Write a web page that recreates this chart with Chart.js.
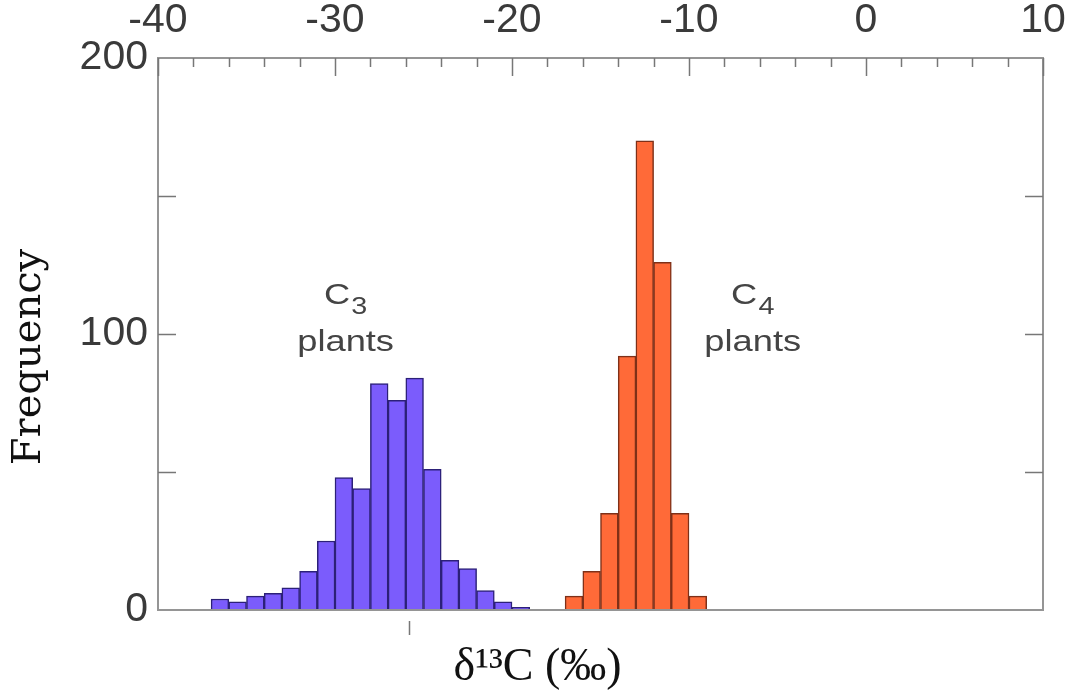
<!DOCTYPE html>
<html>
<head>
<meta charset="utf-8">
<script src="https://cdn.jsdelivr.net/npm/chart.js@4.4.1/dist/chart.umd.min.js"></script>
<style>
  html, body { margin: 0; padding: 0; background: #fff; }
  #wrap { width: 1071px; height: 690px; }
</style>
</head>
<body>
<div id="wrap"><canvas id="hist"></canvas></div>
<script>
// delta-13C histogram, 1 per-mil bins (bar x = bin centre)
const c3Centers = [-36.5, -35.5, -34.5, -33.5, -32.5, -31.5, -30.5, -29.5, -28.5,
                   -27.5, -26.5, -25.5, -24.5, -23.5, -22.5, -21.5, -20.5, -19.5];
const c3Counts  = [4, 3, 5, 6, 8, 14, 25, 48, 44, 82, 76, 84, 51, 18, 15, 7, 3, 1];

const c4Centers = [-16.5, -15.5, -14.5, -13.5, -12.5, -11.5, -10.5, -9.5];
const c4Counts  = [5, 14, 35, 92, 170, 126, 35, 5];

// group labels, anchored in data units
const groupNames = ['3', '4'];
const groupLabelX = [-29.4, -6.4];

// tick below the frame marking the C3 mean
const meanMarks = [-25.8];

const AXIS_FONT = '"Liberation Sans", Arial, sans-serif';
const TITLE_FONT = '"DejaVu Serif", serif';
const XTITLE_FONT = '"Liberation Serif", "Times New Roman", serif';

const pairs = (xs, ys) => xs.map((x, i) => ({ x, y: ys[i] }));

// keep the tick labels from pushing the plot box inwards
const noLabelPadding = s => {
  s.paddingLeft = 0;
  s.paddingRight = 0;
};

// frame, inward ticks, axis titles and the C3/C4 labels
const framePlugin = {
  id: 'frame',
  afterDatasetsDraw(chart) {
    const { ctx, chartArea: a, scales: { x, y } } = chart;
    ctx.save();

    ctx.strokeStyle = '#959595';
    ctx.lineWidth = 2;
    ctx.strokeRect(a.left, a.top, a.right - a.left, a.bottom - a.top);

    ctx.strokeStyle = '#777';
    ctx.lineWidth = 1.5;
    ctx.beginPath();
    for (let v = -40; v <= 10; v += 2) {
      const px = Math.round(x.getPixelForValue(v)) + 0.5;
      const len = v % 10 === 0 ? 18 : 9;
      ctx.moveTo(px, a.top);
      ctx.lineTo(px, a.top + len);
    }
    [50, 100, 150].forEach(v => {
      const py = Math.round(y.getPixelForValue(v)) + 0.5;
      ctx.moveTo(a.left, py);
      ctx.lineTo(a.left + 18, py);
      ctx.moveTo(a.right, py);
      ctx.lineTo(a.right - 18, py);
    });
    meanMarks.forEach(v => {
      const px = Math.round(x.getPixelForValue(v)) + 0.5;
      ctx.moveTo(px, a.bottom + 11);
      ctx.lineTo(px, a.bottom + 25);
    });
    ctx.stroke();

    // C3 / C4 group labels, set in a wide sans
    ctx.fillStyle = '#444';
    ctx.textBaseline = 'alphabetic';
    groupNames.forEach((sub, i) => {
      const cx = x.getPixelForValue(groupLabelX[i]);
      const base = y.getPixelForValue(111);
      ctx.save();
      ctx.translate(cx, 0);
      ctx.scale(1.25, 1);
      ctx.font = '29px ' + AXIS_FONT;
      const wC = ctx.measureText('C').width;
      ctx.font = '23px ' + AXIS_FONT;
      const wS = ctx.measureText(sub).width;
      const left = -(wC + wS + 1) / 2;
      ctx.font = '29px ' + AXIS_FONT;
      ctx.textAlign = 'left';
      ctx.fillText('C', left, base);
      ctx.font = '23px ' + AXIS_FONT;
      ctx.fillText(sub, left + wC + 1, base + 10);
      ctx.font = '29px ' + AXIS_FONT;
      ctx.textAlign = 'center';
      ctx.fillText('plants', 0, y.getPixelForValue(94));
      ctx.restore();
    });

    ctx.restore();
  },
  afterDraw(chart) {
    const { ctx, chartArea: a, width } = chart;
    ctx.save();
    ctx.fillStyle = '#111';
    ctx.textAlign = 'center';
    ctx.textBaseline = 'alphabetic';
    ctx.font = '46px ' + XTITLE_FONT;
    ctx.fillText('δ¹³C (‰)', width / 2 + 2, 680);

    ctx.translate(30, (a.top + a.bottom) / 2 + 23);
    ctx.rotate(-Math.PI / 2);
    ctx.font = '40px ' + TITLE_FONT;
    ctx.textBaseline = 'middle';
    ctx.fillText('Frequency', 0, 0);
    ctx.restore();
  }
};

new Chart(document.getElementById('hist'), {
  type: 'bar',
  data: {
    datasets: [
      {
        label: 'C3 plants',
        data: pairs(c3Centers, c3Counts),
        backgroundColor: '#7b5cfc',
        borderColor: '#2c2078',
        borderWidth: 1.5
      },
      {
        label: 'C4 plants',
        data: pairs(c4Centers, c4Counts),
        backgroundColor: '#ff6a38',
        borderColor: '#7e3018',
        borderWidth: 1.5
      }
    ]
  },
  options: {
    responsive: true,
    maintainAspectRatio: false,
    animation: false,
    grouped: false,
    barPercentage: 1,
    categoryPercentage: 1,
    layout: { padding: { left: 0, right: 28, top: 0, bottom: 80 } },
    plugins: {
      legend: { display: false },
      tooltip: { enabled: false }
    },
    scales: {
      x: {
        type: 'linear',
        position: 'top',
        offset: false,
        min: -40,
        max: 10,
        grid: { display: false, drawTicks: false, offset: false },
        border: { display: false },
        ticks: {
          stepSize: 10,
          padding: 13,
          maxRotation: 0,
          color: '#3a3a3a',
          font: { family: AXIS_FONT, size: 41 }
        },
        afterFit: s => {
          s.height = 58;
          noLabelPadding(s);
        }
      },
      y: {
        min: 0,
        max: 200,
        grid: { display: false, drawTicks: false },
        border: { display: false },
        ticks: {
          stepSize: 50,
          padding: 10,
          color: '#3a3a3a',
          font: { family: AXIS_FONT, size: 41 },
          callback: v => (v % 100 === 0 ? v : '')
        },
        afterFit: s => {
          s.width = 158;
          s.paddingTop = 0;
          s.paddingBottom = 0;
        }
      }
    }
  },
  plugins: [framePlugin]
});
</script>
</body>
</html>
